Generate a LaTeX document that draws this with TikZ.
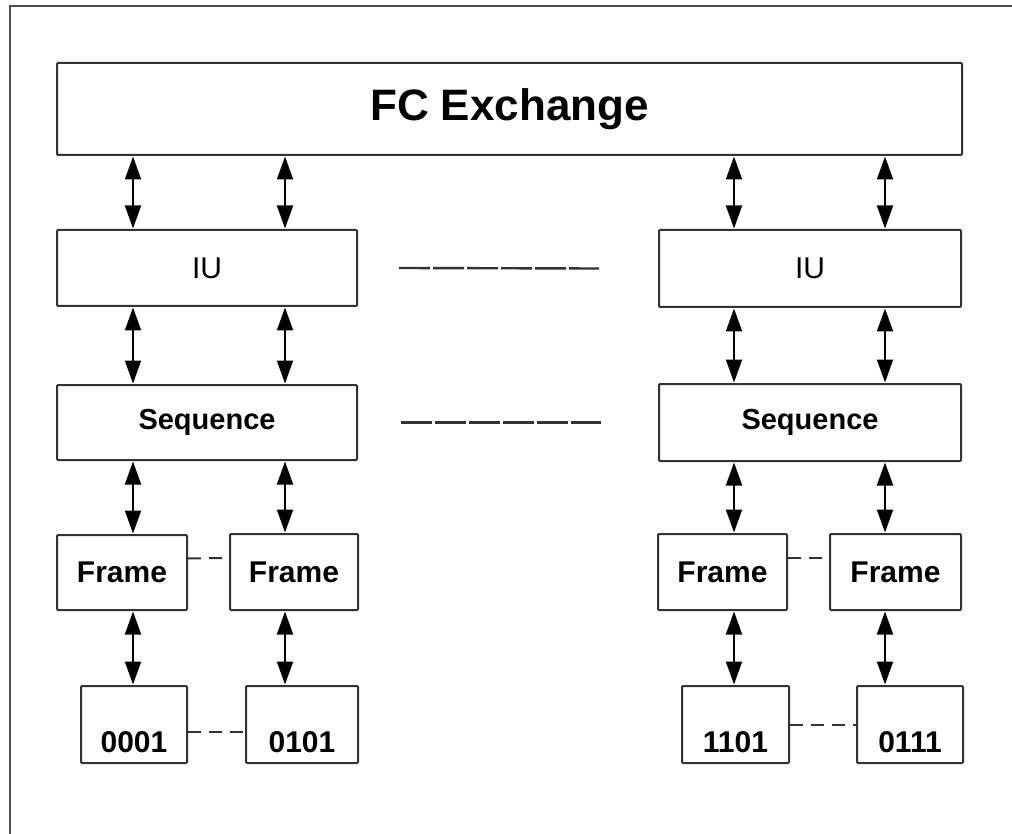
\documentclass[tikz,border=0pt]{standalone}
\usepackage{fontspec}
\setmainfont{Liberation Sans}
\usetikzlibrary{arrows.meta}
\definecolor{edge}{HTML}{333333}
\definecolor{frameline}{HTML}{505050}
\tikzset{
  box/.style={draw=edge, line width=2pt, fill=white, inner sep=0pt, rounded corners=1pt, text=black},
  dbl/.style={line width=2pt, draw=black, {Triangle[width=16pt,length=23pt]}-{Triangle[width=16pt,length=23pt]}, shorten <=0.5pt, shorten >=0.5pt},
  longdash/.style={line width=2.4pt, draw=edge, dash pattern=on 31pt off 3pt},
  shortdash/.style={line width=2pt, draw=edge, dash pattern=on 13pt off 8pt},
  bigtxt/.style={font=\fontsize{44}{50}\selectfont\bfseries},
  iutxt/.style={font=\fontsize{30}{34}\selectfont},
  seqtxt/.style={font=\fontsize{29}{34}\selectfont\bfseries},
  frtxt/.style={font=\fontsize{30}{34}\selectfont\bfseries},
  numtxt/.style={font=\fontsize{30}{34}\selectfont\bfseries, text height=60pt, text depth=4pt}
}
\begin{document}
\begin{tikzpicture}[x=1pt,y=-1pt]
\useasboundingbox (0,0) rectangle (1012,834);
\fill[white] (0,0) rectangle (1012,834);
% outer frame (cropped)
\coordinate (ftl) at (10,6);
\coordinate (ftr) at (1012,6);
\coordinate (fbl) at (10,834);
\draw[frameline, line width=2pt] (fbl) -- (ftl) -- (ftr);

% boxes
\node[box, bigtxt, minimum width=905pt, minimum height=92pt] (fc) at (509.5,109) {FC Exchange};
\node[box, iutxt, minimum width=300pt, minimum height=76pt] (iuL) at (207,268) {IU};
\node[box, iutxt, minimum width=302pt, minimum height=77pt] (iuR) at (810,268.5) {IU};
\node[box, seqtxt, minimum width=300pt, minimum height=75pt] (seqL) at (207,422.5) {Sequence};
\node[box, seqtxt, minimum width=302pt, minimum height=77pt] (seqR) at (810,422.5) {Sequence};
\node[box, frtxt, minimum width=130pt, minimum height=75pt] (frL1) at (122,572.5) {Frame};
\node[box, frtxt, minimum width=128pt, minimum height=76pt] (frL2) at (294,572) {Frame};
\node[box, frtxt, minimum width=129pt, minimum height=76pt] (frR1) at (722.5,572) {Frame};
\node[box, frtxt, minimum width=131pt, minimum height=76pt] (frR2) at (895.5,572) {Frame};
\node[box, numtxt, minimum width=106pt, minimum height=77pt] (d1) at (134,724.5) {0001};
\node[box, numtxt, minimum width=112pt, minimum height=77pt] (d2) at (302,724.5) {0101};
\node[box, numtxt, minimum width=107pt, minimum height=77pt] (d3) at (735.5,724.5) {1101};
\node[box, numtxt, minimum width=106pt, minimum height=77pt] (d4) at (910,724.5) {0111};

% column x positions
\coordinate (c1) at (133,0);
\coordinate (c2) at (285,0);
\coordinate (c3) at (734,0);
\coordinate (c4) at (885,0);

% arrows FC <-> IU
\draw[dbl] (fc.south -| c1) -- (iuL.north -| c1);
\draw[dbl] (fc.south -| c2) -- (iuL.north -| c2);
\draw[dbl] (fc.south -| c3) -- (iuR.north -| c3);
\draw[dbl] (fc.south -| c4) -- (iuR.north -| c4);
% IU <-> Sequence
\draw[dbl] (iuL.south -| c1) -- (seqL.north -| c1);
\draw[dbl] (iuL.south -| c2) -- (seqL.north -| c2);
\draw[dbl] (iuR.south -| c3) -- (seqR.north -| c3);
\draw[dbl] (iuR.south -| c4) -- (seqR.north -| c4);
% Sequence <-> Frame
\draw[dbl] (seqL.south -| c1) -- (frL1.north -| c1);
\draw[dbl] (seqL.south -| c2) -- (frL2.north -| c2);
\draw[dbl] (seqR.south -| c3) -- (frR1.north -| c3);
\draw[dbl] (seqR.south -| c4) -- (frR2.north -| c4);
% Frame <-> data
\draw[dbl] (frL1.south -| c1) -- (d1.north -| c1);
\draw[dbl] (frL2.south -| c2) -- (d2.north -| c2);
\draw[dbl] (frR1.south -| c3) -- (d3.north -| c3);
\draw[dbl] (frR2.south -| c4) -- (d4.north -| c4);

% dashed links
\draw[longdash] ([xshift=41pt]iuL.east) -- ([xshift=-59pt]iuR.west);
\draw[longdash] ([xshift=43pt]seqL.east) -- ([xshift=-57pt]seqR.west);
\draw[shortdash] ([yshift=14pt]frL1.east) -- ([yshift=14pt]frL2.west);
\draw[shortdash] ([yshift=14pt]frR1.east) -- ([yshift=14pt]frR2.west);
\draw[shortdash] ([yshift=-7.5pt]d1.east) -- ([yshift=-7.5pt]d2.west);
\draw[shortdash] (d3.east) -- (d4.west);
\end{tikzpicture}
\end{document}
